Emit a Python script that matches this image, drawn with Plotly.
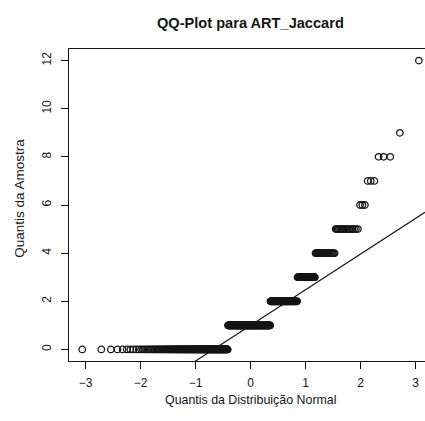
import numpy as np
import plotly.graph_objects as go
from statistics import NormalDist

# Sample values (ART_Jaccard) and how many times each occurs
levels = [0, 1, 2, 3, 4, 5, 6, 7, 8, 9, 12]
counts = [153, 135, 73, 35, 26, 17, 3, 3, 3, 1, 1]

x_ticks = [-3, -2, -1, 0, 1, 2, 3]
y_ticks = [0, 2, 4, 6, 8, 10, 12]

sample = np.sort(np.repeat(levels, counts)).astype(float)
n = len(sample)
nd = NormalDist()
theo = np.array([nd.inv_cdf((i - 0.5) / n) for i in range(1, n + 1)])

# qqline through the 1st and 3rd quartiles (R type 7)
yq = np.quantile(sample, [0.25, 0.75])
xq = np.array([nd.inv_cdf(0.25), nd.inv_cdf(0.75)])
slope = (yq[1] - yq[0]) / (xq[1] - xq[0])
intercept = yq[0] - slope * xq[0]
xr = [-3.30, 3.17]
yr = [-0.48, 12.48]
line_x = np.array(xr)
line_y = intercept + slope * line_x

ink = "#151515"
font = "Liberation Sans, Arial, sans-serif"

fig = go.Figure()
fig.add_trace(go.Scatter(
    x=theo, y=sample, mode="markers",
    marker=dict(symbol="circle-open", size=6.5, color=ink, line=dict(width=1.3, color=ink)),
    showlegend=False, hoverinfo="skip"))
fig.add_trace(go.Scatter(
    x=line_x, y=line_y, mode="lines",
    line=dict(color=ink, width=1.2), showlegend=False, hoverinfo="skip"))

fig.update_layout(
    width=425, height=421,
    margin=dict(l=69, r=0, t=49, b=60),
    paper_bgcolor="white", plot_bgcolor="white",
    font=dict(family=font, color=ink, size=12),
    xaxis=dict(range=xr, tickvals=x_ticks, ticks="outside", ticklen=7, tickwidth=1,
               tickcolor=ink, showline=True, linecolor=ink, linewidth=1.2, mirror=True,
               showgrid=False, zeroline=False, tickfont=dict(size=12),
               ticklabelstandoff=3),
    yaxis=dict(range=yr, tickvals=y_ticks, ticks="outside", ticklen=7, tickwidth=1,
               tickcolor=ink, showline=True, linecolor=ink, linewidth=1.2,
               showgrid=False, zeroline=False, tickangle=-90, tickfont=dict(size=12),
               ticklabelstandoff=5),
    annotations=[
        dict(text="<b>QQ-Plot para ART_Jaccard</b>", xref="paper", yref="paper",
             x=0.511, y=1, yshift=26.5, showarrow=False, xanchor="center", yanchor="middle",
             font=dict(size=14.6, family=font, color=ink)),
        dict(text="Quantis da Distribuição Normal", xref="paper", yref="paper",
             x=0.511, y=0, yshift=-39, showarrow=False, xanchor="center", yanchor="middle",
             font=dict(size=12.4, family=font, color=ink)),
        dict(text="Quantis da Amostra", xref="paper", yref="paper",
             x=0, y=0.52, xshift=-49, showarrow=False, xanchor="center", yanchor="middle",
             textangle=-90, font=dict(size=13.5, family=font, color=ink)),
    ],
)

fig.write_html("out.html")
